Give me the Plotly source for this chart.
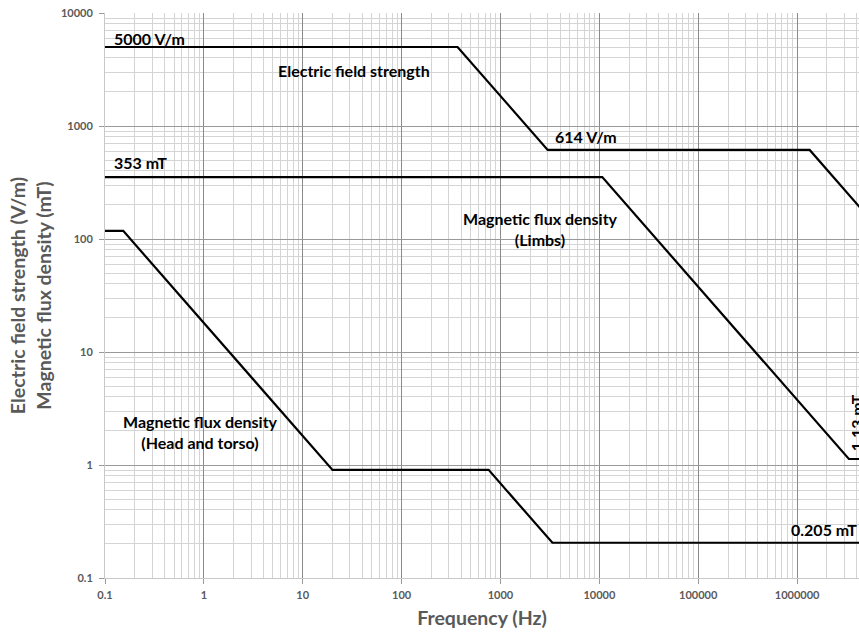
import plotly.graph_objects as go

# Frequency breakpoints (Hz) and limits
e_freq = [0.1, 368, 3000, 1.34e6, 5e6]
e_vals = [5000, 5000, 614, 614, 164.6]

limbs_freq = [0.1, 10700, 3.34e6, 5e6]
limbs_vals = [353, 353, 1.13, 1.13]

head_freq = [0.1, 0.153, 20, 759, 3350, 5e6]
head_vals = [118, 118, 0.905, 0.905, 0.205, 0.205]

x_ticks = [0.1, 1, 10, 100, 1000, 10000, 100000, 1000000]
x_ticklabels = ["0.1", "1", "10", "100", "1000", "10000", "100000", "1000000"]
y_ticks = [0.1, 1, 10, 100, 1000, 10000]
y_ticklabels = ["0.1", "1", "10", "100", "1000", "10000"]

FONT = "Lato"
fig = go.Figure()
for xs, ys in [(e_freq, e_vals), (limbs_freq, limbs_vals), (head_freq, head_vals)]:
    fig.add_trace(go.Scatter(x=xs, y=ys, mode="lines",
                             line=dict(color="black", width=2.2),
                             showlegend=False, hoverinfo="skip"))

ann_font = dict(family=FONT, size=16, color="black", weight="bold")
anns = [
    dict(text="5000 V/m", x=-0.929, y=3.773, xanchor="left"),
    dict(text="Electric field strength", x=1.52, y=3.49, xanchor="center"),
    dict(text="614 V/m", x=3.536, y=2.908, xanchor="left"),
    dict(text="353 mT", x=-0.929, y=2.673, xanchor="left"),
    dict(text="Magnetic flux density<br>(Limbs)", x=3.407, y=2.091, xanchor="center"),
    dict(text="Magnetic flux density<br>(Head and torso)", x=-0.037, y=0.295, xanchor="center"),
    dict(text="0.205 mT", x=6.622, y=-0.573, xanchor="right"),
    dict(text="1.13 mT", x=6.60, y=0.374, xanchor="center", textangle=-90),
]
for a in anns:
    fig.add_annotation(xref="x", yref="y", showarrow=False, yanchor="middle",
                       font=ann_font, align="center", **a)

tick_font = dict(family=FONT, size=11, color="#595959", weight="bold")
title_font = dict(family=FONT, size=19.5, color="#595959", weight="bold")

fig.update_xaxes(type="log", range=[-1, 6.626],
                 tickvals=x_ticks, ticktext=x_ticklabels,
                 tickfont=tick_font, ticks="outside", ticklen=5, tickcolor="#999999",
                 ticklabelstandoff=2,
                 showgrid=True, gridcolor="#8a8a8a", gridwidth=1,
                 minor=dict(dtick="D1", showgrid=True, gridcolor="#d4d4d4", gridwidth=1),
                 zeroline=False, showline=True, linecolor="#c8c8c8",
                 title=dict(text="Frequency (Hz)", font=title_font, standoff=11))
fig.update_yaxes(type="log", range=[-1, 4],
                 tickvals=y_ticks, ticktext=y_ticklabels,
                 tickfont=tick_font, ticks="outside", ticklen=5, tickcolor="#999999",
                 ticklabelstandoff=4,
                 showgrid=True, gridcolor="#999999", gridwidth=1,
                 minor=dict(dtick="D1", showgrid=True, gridcolor="#d4d4d4", gridwidth=1),
                 zeroline=False, showline=True, linecolor="#c8c8c8",
                 title=dict(text="Electric field strength (V/m)<br>Magnetic flux density (mT)",
                            font=title_font, standoff=4))

fig.update_layout(width=859, height=632,
                  margin=dict(l=105, r=0, t=13, b=54, autoexpand=False),
                  plot_bgcolor="white", paper_bgcolor="white",
                  font=dict(family=FONT))
fig.write_html("out.html")
